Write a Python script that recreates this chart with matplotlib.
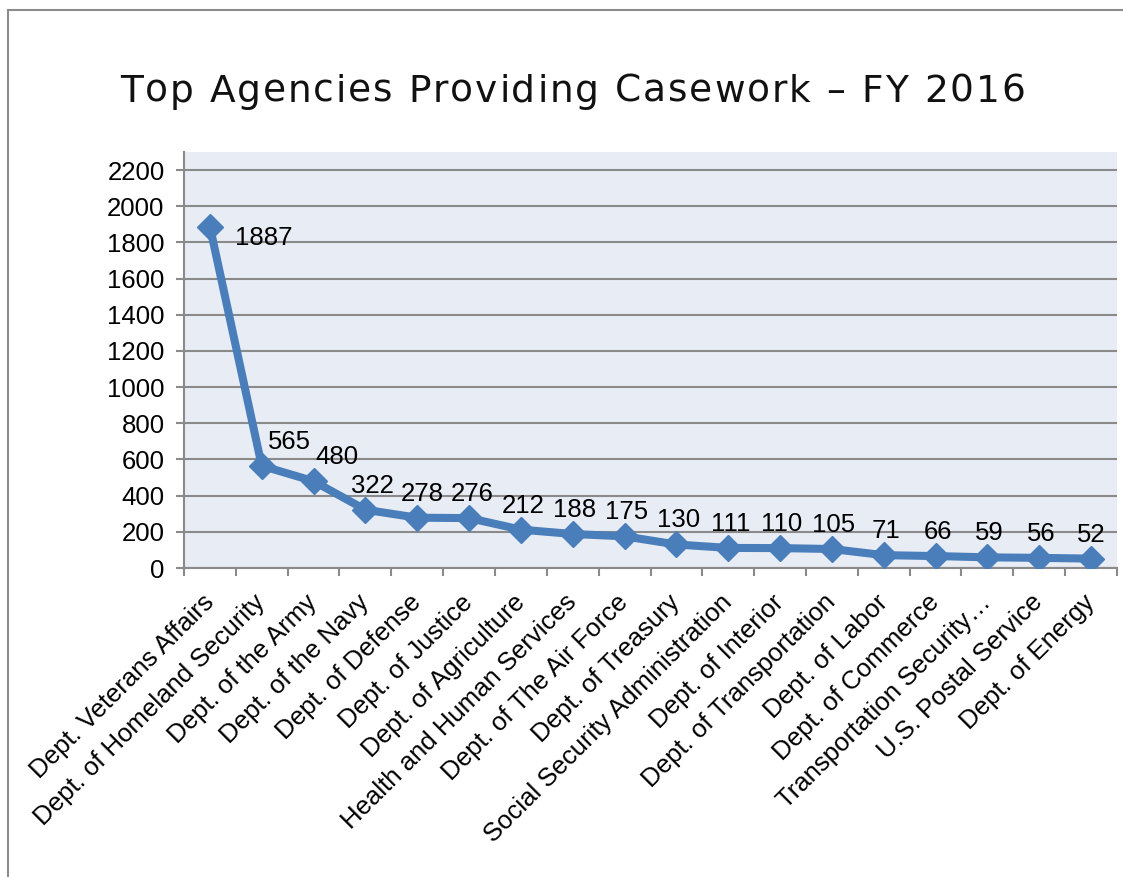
import matplotlib
matplotlib.use("Agg")
import matplotlib.pyplot as plt
from matplotlib.lines import Line2D
from matplotlib.font_manager import FontProperties

categories = [
    "Dept. Veterans Affairs", "Dept. of Homeland Security", "Dept. of the Army",
    "Dept. of the Navy", "Dept. of Defense", "Dept. of Justice",
    "Dept. of Agriculture", "Health and Human Services", "Dept. of The Air Force",
    "Dept. of Treasury", "Social Security Administration", "Dept. of Interior",
    "Dept. of Transportation", "Dept. of Labor", "Dept. of Commerce",
    "Transportation Security\u2026", "U.S. Postal Service", "Dept. of Energy",
]
values = [1887, 565, 480, 322, 278, 276, 212, 188, 175, 130, 111, 110, 105, 71, 66, 59, 56, 52]
y_ticks = [0, 200, 400, 600, 800, 1000, 1200, 1400, 1600, 1800, 2000, 2200]
title = "Top Agencies Providing Casework \u2013 FY 2016"

# label x-offsets (pixels) for data labels, mimicking Excel placement
label_dx = [0, 28, 23, 7, 5, 3, 2, 2, 2, 2, 2, 2, 2, 2, 2, 2, 2, 0]

W, H = 1123, 877
fig = plt.figure(figsize=(W / 100, H / 100), dpi=100)
fig.patch.set_facecolor("white")

# chart border (left and top only visible)
fig.add_artist(Line2D([8 / W, 8 / W], [0, 1 - 10 / H], color="#8c8c8c", lw=1.5, transform=fig.transFigure))
fig.add_artist(Line2D([8 / W, 1], [1 - 10 / H, 1 - 10 / H], color="#8c8c8c", lw=1.5, transform=fig.transFigure))

left, right, top, bottom = 184, 1117, 152, 568
ax = fig.add_axes([left / W, 1 - bottom / H, (right - left) / W, (bottom - top) / H])
ax.set_facecolor("#E8ECF4")

x = list(range(len(values)))
ax.plot(x, values, color="#4A7EBB", lw=5.8, marker="D", markersize=13,
        markerfacecolor="#4A7EBB", markeredgecolor="#4A7EBB", solid_joinstyle="miter", zorder=3)

ax.set_xlim(-0.5, len(values) - 0.5)
ax.set_ylim(0, 2300)
ax.set_yticks(y_ticks)
ax.set_yticklabels([str(v) for v in y_ticks], fontsize=18.5, family="Liberation Sans")
ax.yaxis.grid(True, color="#8a8a8a", lw=1.5)
ax.set_axisbelow(True)

ax.set_xticks(x)
ax.set_xticklabels(categories, rotation=45, ha="right", va="center", rotation_mode="anchor",
                   fontsize=18.5, family="Liberation Sans")
ax.set_xticks([i - 0.5 for i in range(len(values) + 1)], minor=True)
ax.tick_params(axis="x", which="major", length=0, pad=22)
ax.tick_params(axis="x", which="minor", length=6, width=1.5, color="#8a8a8a", direction="out")
ax.tick_params(axis="y", length=6, width=1.5, color="#8a8a8a", direction="out", pad=8)

for s in ["top", "right"]:
    ax.spines[s].set_visible(False)
for s in ["left", "bottom"]:
    ax.spines[s].set_color("#8a8a8a")
    ax.spines[s].set_linewidth(1.5)

for i, v in enumerate(values):
    if i == 0:
        ax.annotate(str(v), (i, v), xytext=(25, -11), textcoords="offset pixels",
                    ha="left", va="center", fontsize=18.5, family="Liberation Sans", zorder=4)
    else:
        ax.annotate(str(v), (i, v), xytext=(label_dx[i], 24), textcoords="offset pixels",
                    ha="center", va="center", fontsize=18.5, family="Liberation Sans", zorder=4)

# letter-spaced title (characters placed side by side, no kerning overlap)
renderer = fig.canvas.get_renderer()
fp = FontProperties(family="DejaVu Sans", size=27)

def tw(s):
    w, h, d = renderer.get_text_width_height_descent(s, fp, ismath=False)
    return w

space_w = tw("T T") - tw("TT")
widths = [space_w if ch == " " else tw(ch) for ch in title]
target_left, target_right = 120, 1025
extra = (target_right - target_left - sum(widths)) / (len(title) - 1)
xl = target_left
for ch, w in zip(title, widths):
    if ch != " ":
        fig.text(xl / W, 1 - 102 / H, ch, ha="left", va="baseline", fontproperties=fp,
                 color="#111111")
    xl += w + extra

fig.savefig("out.png", dpi=100, facecolor="white")
